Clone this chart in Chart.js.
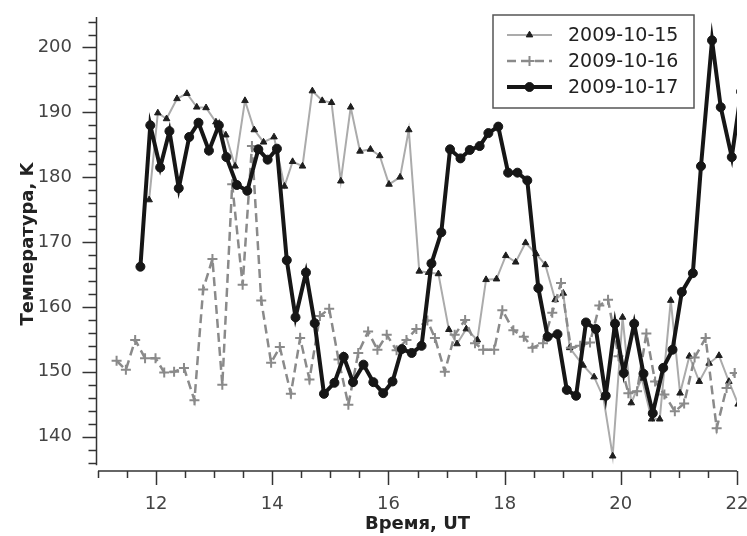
<!DOCTYPE html>
<html>
<head>
<meta charset="utf-8">
<script src="https://cdn.jsdelivr.net/npm/chart.js@4.4.0/dist/chart.umd.min.js"></script>
<style>
html,body{margin:0;padding:0;background:#fff;}
#wrap{width:747px;height:536px;}
</style>
</head>
<body>
<div id="wrap"><canvas id="c" width="747" height="536"></canvas></div>
<script>
// ---- data (time in UT hours, temperature in K) ----
const seriesNames = ["2009-10-15", "2009-10-16", "2009-10-17"];

const t15 = [11.88, 12.03, 12.18, 12.36, 12.53, 12.70, 12.86, 13.03, 13.20, 13.36, 13.53, 13.69, 13.85, 14.03, 14.21, 14.35, 14.52, 14.69, 14.86, 15.02, 15.18, 15.35, 15.51, 15.69, 15.85, 16.01, 16.20, 16.35, 16.53, 16.69, 16.86, 17.04, 17.18, 17.34, 17.53, 17.68, 17.86, 18.02, 18.19, 18.36, 18.54, 18.70, 18.87, 19.01, 19.12, 19.35, 19.54, 19.70, 19.86, 20.03, 20.18, 20.36, 20.53, 20.67, 20.86, 21.02, 21.18, 21.35, 21.52, 21.69, 21.86, 22.02];
const v15 = [176.5, 189.9, 189.0, 192.1, 192.9, 190.8, 190.7, 188.5, 186.5, 181.7, 191.8, 187.3, 185.4, 186.2, 178.6, 182.4, 181.7, 193.3, 191.8, 191.5, 179.4, 190.8, 184.0, 184.3, 183.3, 178.9, 180.0, 187.3, 165.5, 165.3, 165.1, 156.5, 154.3, 156.6, 154.9, 164.2, 164.3, 167.9, 166.9, 169.9, 168.2, 166.5, 161.1, 162.1, 153.7, 151.0, 149.2, 146.0, 137.0, 158.4, 145.2, 149.0, 142.7, 142.7, 161.0, 146.7, 152.4, 148.5, 151.3, 152.5, 148.5, 145.0];

const t16 = [11.32, 11.48, 11.64, 11.81, 11.99, 12.14, 12.31, 12.48, 12.66, 12.81, 12.97, 13.14, 13.31, 13.49, 13.65, 13.81, 13.98, 14.13, 14.32, 14.48, 14.64, 14.82, 14.98, 15.14, 15.31, 15.48, 15.65, 15.81, 15.97, 16.14, 16.31, 16.48, 16.67, 16.80, 16.97, 17.14, 17.32, 17.49, 17.63, 17.82, 17.96, 18.15, 18.33, 18.48, 18.66, 18.82, 18.97, 19.14, 19.30, 19.47, 19.63, 19.78, 19.96, 20.13, 20.28, 20.44, 20.59, 20.75, 20.93, 21.09, 21.27, 21.46, 21.65, 21.82, 21.96];
const v16 = [151.7, 150.3, 154.9, 152.1, 152.1, 149.9, 150.0, 150.6, 145.6, 162.7, 167.4, 148.0, 178.9, 163.4, 184.8, 161.0, 151.4, 153.8, 146.6, 155.2, 148.8, 158.6, 159.7, 151.9, 144.9, 152.9, 156.2, 153.4, 155.7, 153.3, 154.9, 156.6, 157.9, 155.2, 150.0, 155.7, 158.0, 154.4, 153.4, 153.4, 159.5, 156.4, 155.4, 153.7, 154.4, 159.1, 163.7, 153.7, 154.0, 154.5, 160.2, 161.1, 152.4, 146.7, 147.0, 155.9, 148.5, 146.5, 143.9, 145.1, 152.2, 155.2, 141.3, 147.5, 149.8];

const t17 = [11.73, 11.90, 12.07, 12.23, 12.39, 12.57, 12.73, 12.91, 13.08, 13.21, 13.39, 13.57, 13.76, 13.92, 14.08, 14.25, 14.40, 14.58, 14.73, 14.89, 15.07, 15.23, 15.39, 15.57, 15.74, 15.91, 16.07, 16.23, 16.40, 16.57, 16.74, 16.91, 17.06, 17.24, 17.40, 17.57, 17.72, 17.89, 18.06, 18.22, 18.39, 18.58, 18.74, 18.91, 19.07, 19.23, 19.40, 19.57, 19.74, 19.90, 20.05, 20.23, 20.39, 20.55, 20.73, 20.89, 21.05, 21.24, 21.38, 21.57, 21.72, 21.91, 22.07];
const v17 = [166.2, 188.0, 181.5, 187.1, 178.3, 186.2, 188.4, 184.1, 188.0, 183.1, 178.8, 177.9, 184.3, 182.7, 184.4, 167.2, 158.4, 165.3, 157.5, 146.6, 148.3, 152.3, 148.4, 151.1, 148.4, 146.7, 148.5, 153.5, 152.9, 154.0, 166.7, 171.5, 184.3, 182.9, 184.2, 184.8, 186.8, 187.8, 180.7, 180.7, 179.5, 162.9, 155.4, 155.8, 147.2, 146.3, 157.6, 156.6, 146.3, 157.4, 149.8, 157.4, 149.7, 143.6, 150.6, 153.4, 162.3, 165.2, 181.7, 201.1, 190.8, 183.1, 193.2];

const xTicks = [12, 14, 16, 18, 20, 22];
const yTicks = [140, 150, 160, 170, 180, 190, 200];
const xTitle = "Время, UT";
const yTitle = "Температура, K";

const X_MIN = 11, X_MAX = 22, Y_MIN = 134.7, Y_MAX = 204.7;
const FONT = "'DejaVu Sans', 'Liberation Sans', sans-serif";

function pts(t, v) { return t.map((x, i) => ({x: x, y: v[i]})); }

// ---- axes (offset spines with major/minor tick marks) ----
const axesPlugin = {
  id: 'axesPlugin',
  afterDraw(chart) {
    const ctx = chart.ctx, xs = chart.scales.x, ys = chart.scales.y, ca = chart.chartArea;
    ctx.save();
    ctx.strokeStyle = '#333';
    ctx.lineWidth = 1.5;
    const yBottomVal = 135.6;
    const ax = ca.left - 1.5;
    ctx.beginPath();
    ctx.moveTo(ax, ys.getPixelForValue(Y_MAX));
    ctx.lineTo(ax, ys.getPixelForValue(yBottomVal));
    ctx.stroke();
    for (let v = 136; v <= 204; v += 2) {
      const p = Math.round(ys.getPixelForValue(v)) + 0.5;
      const len = (v % 10 === 0) ? 14 : 8;
      ctx.beginPath(); ctx.moveTo(ax, p); ctx.lineTo(ax - len, p); ctx.stroke();
    }
    const by = ca.bottom;
    ctx.beginPath();
    ctx.moveTo(xs.getPixelForValue(X_MIN), by);
    ctx.lineTo(xs.getPixelForValue(X_MAX), by);
    ctx.stroke();
    for (let v = X_MIN; v <= X_MAX + 1e-9; v += 0.5) {
      const p = Math.round(xs.getPixelForValue(v)) + 0.5;
      const len = (Math.abs(v % 2) < 1e-9) ? 14 : 7;
      ctx.beginPath(); ctx.moveTo(p, by); ctx.lineTo(p, by + len); ctx.stroke();
    }
    ctx.restore();
  }
};

// ---- boxed legend in the upper right ----
const legendPlugin = {
  id: 'boxLegend',
  afterDraw(chart) {
    const ctx = chart.ctx;
    const bx = 493, by = 15, bw = 201, bh = 93;
    ctx.save();
    ctx.fillStyle = 'rgba(255,255,255,0.9)';
    ctx.fillRect(bx, by, bw, bh);
    ctx.strokeStyle = '#555';
    ctx.lineWidth = 1.5;
    ctx.strokeRect(bx, by, bw, bh);
    const rows = [35, 61, 87];
    chart.data.datasets.forEach((ds, i) => {
      const y = rows[i];
      ctx.save();
      ctx.strokeStyle = ds.borderColor;
      ctx.lineWidth = ds.borderWidth;
      ctx.setLineDash(ds.borderDash || []);
      ctx.beginPath(); ctx.moveTo(507, y); ctx.lineTo(552, y); ctx.stroke();
      ctx.restore();
      ctx.fillStyle = ds.pointBackgroundColor;
      ctx.strokeStyle = ds.pointBorderColor;
      ctx.lineWidth = ds.pointBorderWidth;
      ctx.setLineDash([]);
      Chart.helpers.drawPoint(ctx, {
        pointStyle: ds.pointStyle, radius: ds.pointRadius, borderWidth: ds.pointBorderWidth,
        rotation: 0
      }, 529.5, y);
      ctx.fillStyle = '#222';
      ctx.font = '19px ' + FONT;
      ctx.textAlign = 'left';
      ctx.textBaseline = 'middle';
      ctx.fillText(ds.label, 568, y + 1);
    });
    ctx.restore();
  }
};

new Chart(document.getElementById('c'), {
  type: 'line',
  data: {
    datasets: [
      {
        label: seriesNames[0], data: pts(t15, v15), order: 3, clip: 0,
        borderColor: '#ababab', borderWidth: 2,
        pointStyle: 'triangle', pointRadius: 3.8, pointBorderWidth: 1,
        pointBackgroundColor: '#1e1e1e', pointBorderColor: '#1e1e1e',
        tension: 0, fill: false
      },
      {
        label: seriesNames[1], data: pts(t16, v16), order: 2, clip: 0,
        borderColor: '#8a8a8a', borderWidth: 2.5, borderDash: [9, 5],
        pointStyle: 'cross', pointRadius: 5, pointBorderWidth: 2,
        pointBackgroundColor: '#8a8a8a', pointBorderColor: '#8a8a8a',
        tension: 0, fill: false
      },
      {
        label: seriesNames[2], data: pts(t17, v17), order: 1, clip: 0,
        borderColor: '#161616', borderWidth: 4,
        pointStyle: 'circle', pointRadius: 4.5, pointBorderWidth: 1,
        pointBackgroundColor: '#161616', pointBorderColor: '#161616',
        tension: 0, fill: false
      }
    ]
  },
  options: {
    responsive: false,
    animation: false,
    devicePixelRatio: 1,
    layout: {padding: {top: 17, right: 10, left: 0, bottom: 0}},
    plugins: {legend: {display: false}, tooltip: {enabled: false}},
    scales: {
      x: {
        type: 'linear', min: X_MIN, max: X_MAX,
        grid: {display: false, drawTicks: false},
        border: {display: false},
        afterBuildTicks(s) { s.ticks = xTicks.map(v => ({value: v})); },
        afterFit(s) { s.height = 65; s.paddingLeft = 0; s.paddingRight = 0; },
        ticks: {
          padding: 23, maxRotation: 0, autoSkip: false,
          color: '#444', font: {family: FONT, size: 18},
          callback: v => String(v)
        },
        title: {
          display: true, text: xTitle, color: '#222',
          font: {family: FONT, size: 18, weight: 'bold'},
          padding: {top: 0, bottom: 1}
        }
      },
      y: {
        type: 'linear', min: Y_MIN, max: Y_MAX,
        grid: {display: false, drawTicks: false},
        border: {display: false},
        afterBuildTicks(s) { s.ticks = yTicks.map(v => ({value: v})); },
        afterFit(s) { s.width = 98; s.paddingTop = 0; s.paddingBottom = 0; },
        ticks: {
          padding: 26, autoSkip: false,
          color: '#444', font: {family: FONT, size: 18},
          callback: v => String(v)
        },
        title: {
          display: true, text: yTitle, color: '#222',
          font: {family: FONT, size: 18, weight: 'bold'},
          padding: {top: 18, bottom: 0}
        }
      }
    }
  },
  plugins: [axesPlugin, legendPlugin]
});
</script>
</body>
</html>
